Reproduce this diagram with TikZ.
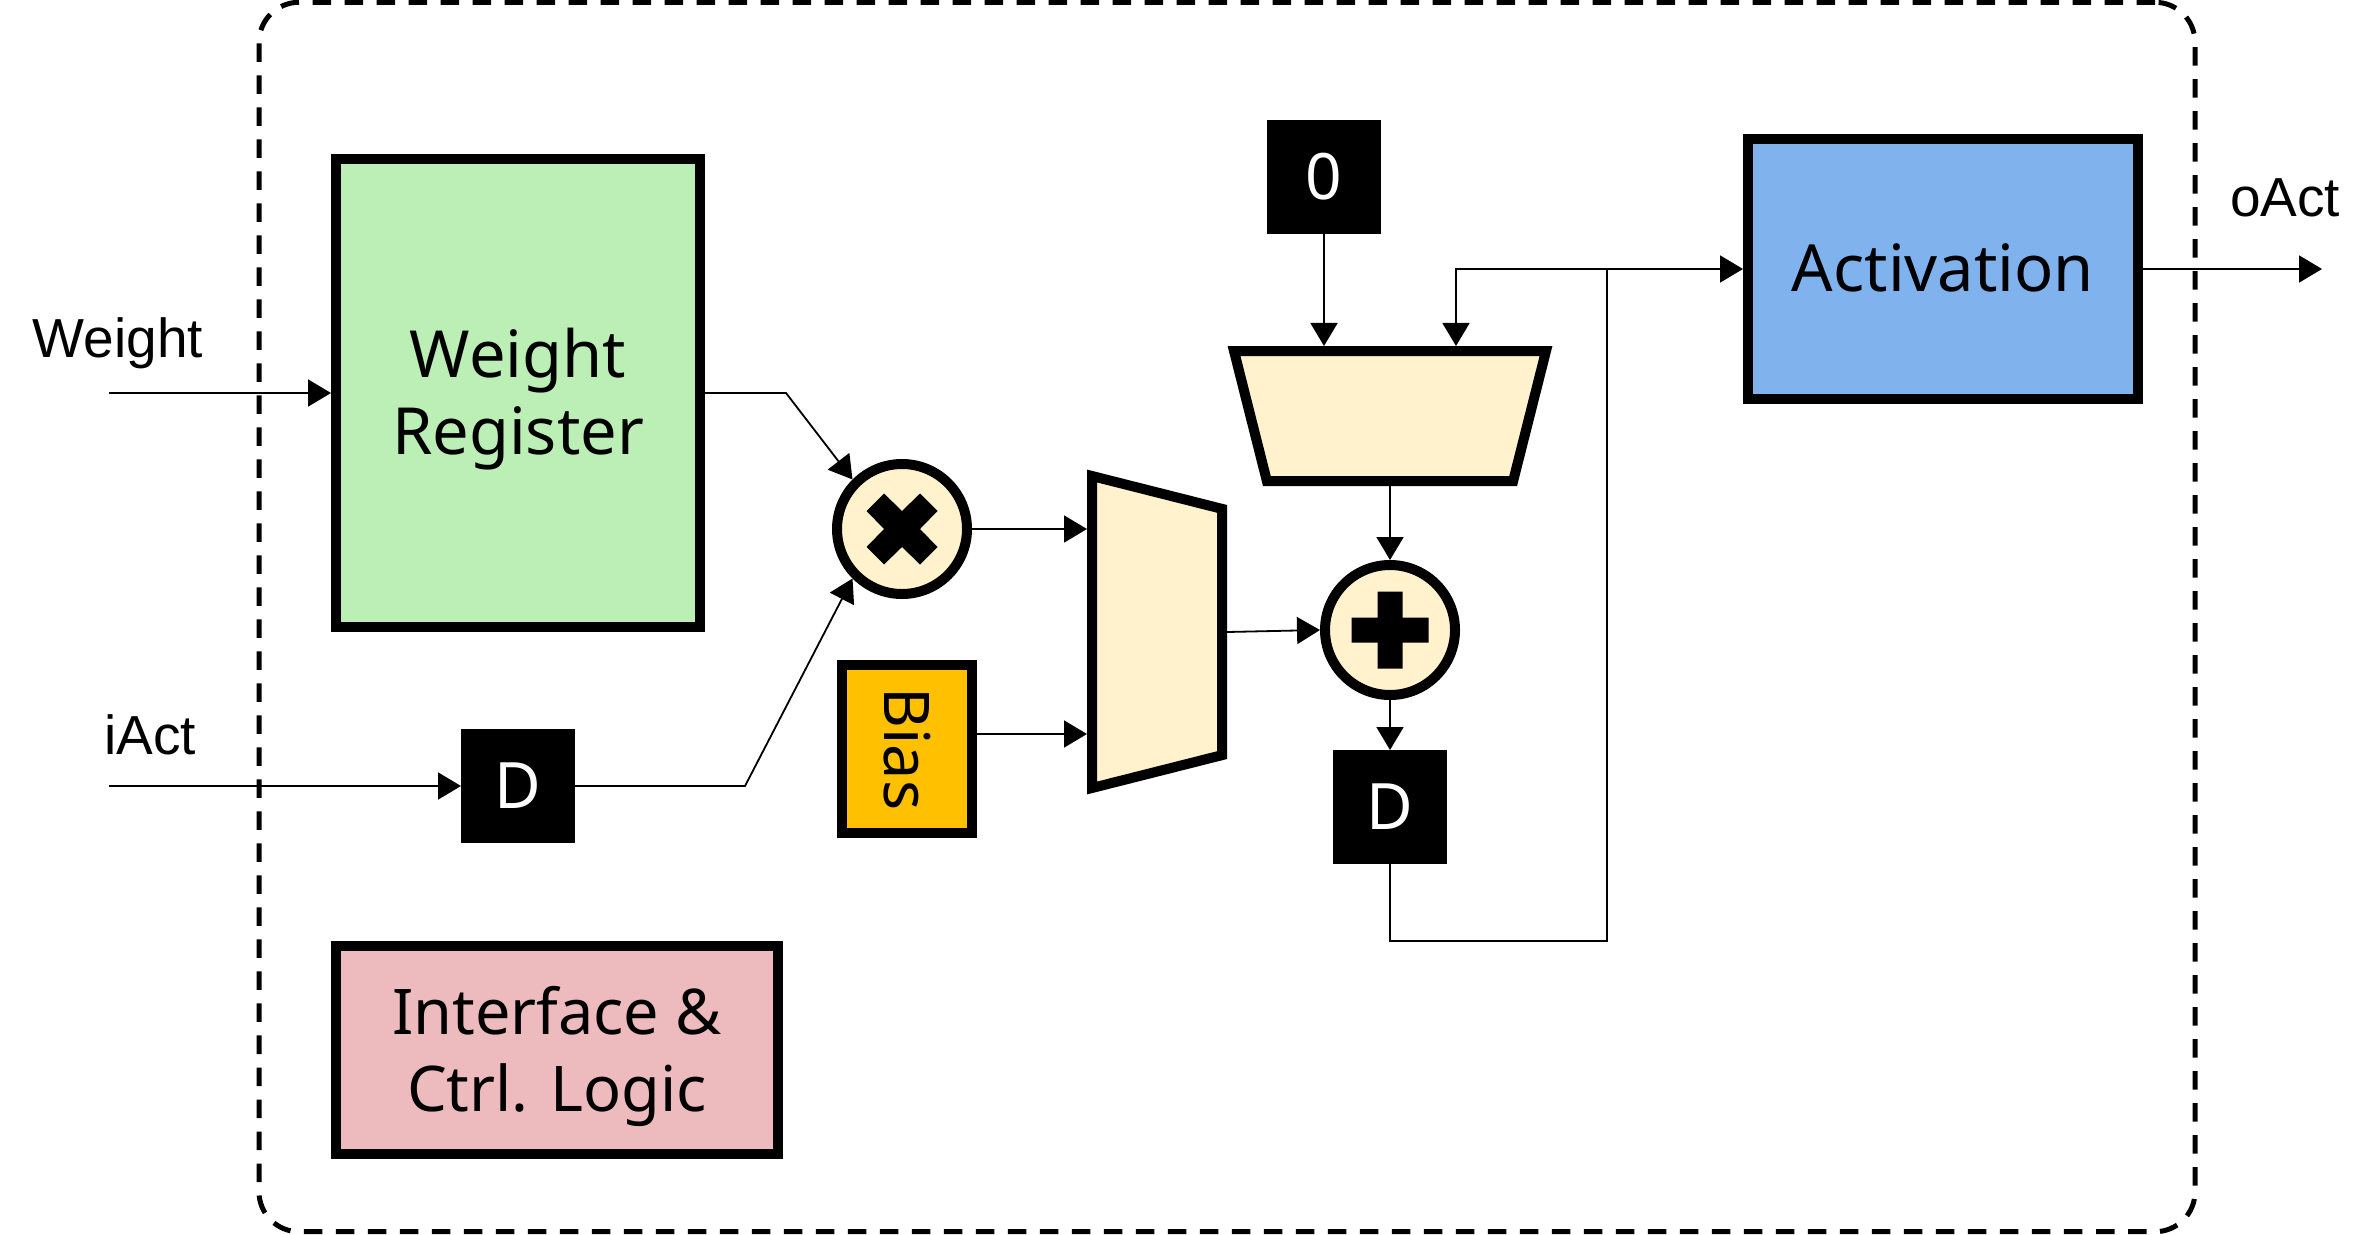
\documentclass[tikz,border=0pt]{standalone}
\usepackage{fontspec}
\setmainfont{Noto Sans}
\newfontfamily\tagfont{Liberation Sans}
\usetikzlibrary{positioning,arrows.meta,shapes.geometric}
\definecolor{regGreen}{HTML}{BCEFB6}
\definecolor{ctrlPink}{HTML}{EDBBBE}
\definecolor{actBlue}{HTML}{80B3EE}
\definecolor{biasGold}{HTML}{FFC000}
\definecolor{muxCream}{HTML}{FFF2CC}

\begin{document}
\begin{tikzpicture}[
        x=1pt, y=-1pt,
        >={Triangle[length=23pt,width=27pt]},
        wire/.style={line width=1.8pt},
        tag/.style={anchor=base, font=\fontsize{55}{55}\selectfont\tagfont},
        block/.style={draw, line width=10pt, align=center, inner sep=0pt, text depth=3pt, font=\fontsize{65}{77}\selectfont},
        reg/.style={fill=black, text=white, minimum width=114pt, minimum height=114pt, inner sep=0pt, outer sep=0pt, font=\fontsize{64}{64}\selectfont},
        opcirc/.style={draw, circle, line width=10pt, fill=muxCream, minimum size=130pt, inner sep=0pt},
        mux/.style={draw, trapezium, line width=10pt, fill=muxCream, trapezium stretches=true, trapezium angle=82.4, minimum width=312pt, minimum height=130pt, inner sep=2pt},
        zone/.style={draw, dashed, line width=5pt, dash pattern=on 18.5pt off 13.5pt, rounded corners=40pt, minimum width=1936pt, minimum height=1229.4pt, inner sep=0pt}
      ]
      \useasboundingbox (0,0) rectangle (2373,1234);

      \node (FR) [zone] at (1227,617) {};

      \node (WR) [block, fill=regGreen, minimum width=364pt, minimum height=468pt] at (518,393) {Weight\\Register};
      \node (DA) [reg, below=97pt of WR] {D};
      \node (IC) [block, fill=ctrlPink, minimum width=442pt, minimum height=208pt, below=98pt of DA, xshift=39pt, font=\fontsize{63}{77}\selectfont] {Interface \&\\Ctrl. Logic};
      \node (MU) [opcirc, right=127pt of WR, yshift=-136pt] {};
      \node (BI) [block, fill=biasGold, minimum width=130pt, minimum height=168pt, below=61pt of MU, xshift=5pt, text depth=, font=\fontsize{63}{63}\selectfont] {\rotatebox{-90}{Bias}};
      \node (MA) [mux, rotate=-90] at (1157,632) {};
      \node (MB) [mux, rotate=180] at (1390,416) {};
      \node (AD) [opcirc] at (1390,630) {};
      \node (DB) [reg, below=50pt of AD] {D};
      \node (ZE) [reg] at (1324,177) {0};
      \node (AC) [block, fill=actBlue, minimum width=390pt, minimum height=260pt] at (1943,269) {Activation};

      \node (WL) [tag] at (118,357) {Weight};
      \node (IL) [tag] at (150,754) {iAct};
      \node (OL) [tag] at (2285,216) {oAct};

      \coordinate (WI) at (109,393);
      \coordinate (AI) at (109,786);
      \coordinate (OA) at (2322,269);
      \coordinate (TP) at (1607,941);
      \coordinate (SP) at (1607,269);

      % operator marks
      \fill[shift={(MU.center)}] (0,-18) -- (18,-35.5) -- (35.5,-18) -- (18,0) -- (35.5,18) -- (18,35.5) -- (0,18) -- (-18,35.5) -- (-35.5,18) -- (-18,0) -- (-35.5,-18) -- (-18,-35.5) -- cycle;
      \fill[shift={(AD.center)}] (-12.5,-38.5) -- (12.5,-38.5) -- (12.5,-12.5) -- (38.5,-12.5) -- (38.5,12.5) -- (12.5,12.5) -- (12.5,38.5) -- (-12.5,38.5) -- (-12.5,12.5) -- (-38.5,12.5) -- (-38.5,-12.5) -- (-12.5,-12.5) -- cycle;

      \draw[wire,->] (WI) -- (WR.west |- WI);
      \draw[wire,->] (AI) -- (AI -| DA.west);
      \draw[wire,->] (WR.east) -- ++(81pt,0pt) -- (MU.135);
      \draw[wire,->] (DA.east) -- ++(170pt,0pt) -- (MU.225);
      \draw[wire,->] (MU.east) -- (MU.east -| MA.south);
      \draw[wire,->] ([yshift=15pt]BI.east) -- ([yshift=15pt]BI.east -| MA.south);
      \draw[wire,->] (MA.north) -- (AD.west);
      \draw[wire,->] (MB.north) -- (AD.north);
      \draw[wire,->] (AD.south) -- (DB.north);
      \draw[wire,->] (ZE.south) -- (ZE.south |- MB.south);
      \draw[wire] (DB.south) |- (TP) -- (SP);
      \draw[wire,->] (SP) -- (AC.west);
      \draw[wire,->] (SP) -| ([xshift=66pt]MB.south);
      \draw[wire,->] (AC.east) -- (OA);
\end{tikzpicture}
\end{document}
